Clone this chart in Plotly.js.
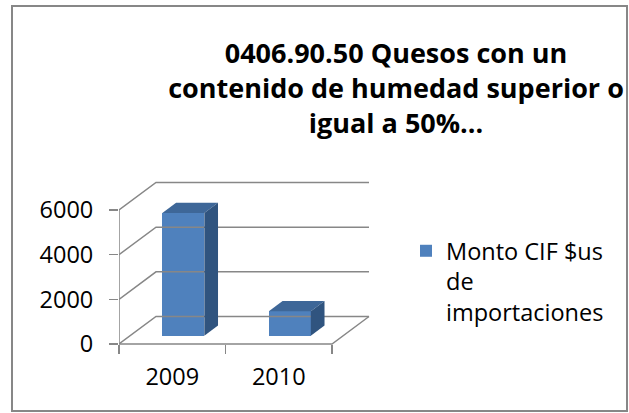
<!DOCTYPE html>
<html>
<head>
<meta charset="utf-8">
<script src="https://cdn.plot.ly/plotly-3.0.1.min.js"></script>
<style>html,body{margin:0;padding:0;background:#fff;}#chart{width:629px;height:413px;}</style>
</head>
<body>
<div id="chart"></div>
<script>
// ---- data ----
const categories = ["2009", "2010"];
const seriesName = "Monto CIF $us<br>de<br>importaciones";
const values = [5500, 1100];
const yTicks = [0, 2000, 4000, 6000];
const titleText = "0406.90.50 Quesos con un<br>contenido de humedad superior o<br>igual a 50%...";

// ---- geometry (pixels -> axis units) ----
const W = 629, H = 413;
const plotL = 119, plotR = 372, plotT = 178, plotB = 346;
const zeroPx = 344;                 // pixel row of value 0 on the front plane
const pxPerCat = 106.5;
const pxPerVal = 134 / 6000;
const xMin = -0.5, xMax = -0.5 + (plotR - plotL) / pxPerCat;
const yMin = -(plotB - zeroPx) / pxPerVal, yMax = (zeroPx - plotT) / pxPerVal;
const DX = 37 / pxPerCat;           // depth offset (category units)
const DY = 27.5 / pxPerVal;         // depth offset (value units)
const fFront = 0.3, fBack = 0.67;   // bar depth position
const barW = 0.394;
const gridColor = '#878787';
const FONT = 'Open Sans, Noto Sans, sans-serif';

const catIdx = categories.map((c, i) => i);
const xL = -0.5, xR = categories.length - 0.5;

const traces = [];

// walls, gridlines and floor
yTicks.forEach(v => {
  traces.push({
    type: 'scatter', mode: 'lines', hoverinfo: 'skip', showlegend: false,
    x: [xL, xL + DX, xR + DX], y: [v, v + DY, v + DY],
    line: {color: gridColor, width: 1.5}
  });
});
// front axis line and floor front / right edges
traces.push({
  type: 'scatter', mode: 'lines', hoverinfo: 'skip', showlegend: false,
  x: [xL, xL, xR, xR + DX], y: [yTicks[yTicks.length - 1], 0, 0, DY],
  line: {color: gridColor, width: 1.5}
});

// bar front faces
traces.push({
  type: 'bar', name: seriesName,
  x: catIdx.map(i => i + fFront * DX),
  y: values,
  base: values.map(() => fFront * DY),
  width: barW,
  marker: {color: '#4F81BD', line: {width: 0}},
  showlegend: true
});

// bar top and side faces
const dd = (fBack - fFront) * DX, ddy = (fBack - fFront) * DY;
values.forEach((v, i) => {
  const xl = i + fFront * DX - barW / 2, xr = i + fFront * DX + barW / 2;
  const b = fFront * DY, t = b + v;
  traces.push({
    type: 'scatter', mode: 'lines', fill: 'toself', hoverinfo: 'skip', showlegend: false,
    x: [xl, xr, xr + dd, xl + dd, xl], y: [t, t, t + ddy, t + ddy, t],
    fillcolor: '#3E6798', line: {width: 0, color: 'rgba(0,0,0,0)'}
  });
  traces.push({
    type: 'scatter', mode: 'lines', fill: 'toself', hoverinfo: 'skip', showlegend: false,
    x: [xr, xr + dd, xr + dd, xr, xr], y: [b, b + ddy, t + ddy, t, b],
    fillcolor: '#30547F', line: {width: 0, color: 'rgba(0,0,0,0)'}
  });
});

// dummy trace for the boundary-tick axis
traces.push({type: 'scatter', x: [xL], y: [0], xaxis: 'x2', mode: 'markers',
  marker: {opacity: 0}, hoverinfo: 'skip', showlegend: false});

const axisPos = (plotB - zeroPx) / (plotB - plotT);
const layout = {
  width: W, height: H,
  margin: {l: plotL, r: W - plotR, t: plotT, b: H - plotB, pad: 0},
  paper_bgcolor: '#fff', plot_bgcolor: 'rgba(0,0,0,0)',
  font: {family: FONT, color: '#000', size: 23.5},
  title: {
    text: titleText,
    font: {family: FONT, size: 27, weight: 'bold', color: '#000'},
    xref: 'container', yref: 'container', x: 396 / W, y: 1 - 63 / H,
    xanchor: 'center', yanchor: 'middle'
  },
  xaxis: {
    range: [xMin, xMax], anchor: 'free', position: axisPos,
    tickvals: catIdx, ticktext: categories, ticks: '',
    showgrid: false, zeroline: false, showline: false,
    ticklabelstandoff: 16, tickfont: {size: 23.5, family: FONT},
    fixedrange: true
  },
  xaxis2: {
    range: [xMin, xMax], overlaying: 'x', anchor: 'free', position: axisPos,
    tickvals: catIdx.concat([categories.length]).map(i => i - 0.5),
    showticklabels: false, ticks: 'outside', ticklen: 9, tickwidth: 1.5, tickcolor: gridColor,
    showgrid: false, zeroline: false, showline: false, fixedrange: true
  },
  yaxis: {
    range: [yMin, yMax], tickvals: yTicks, ticktext: yTicks.map(String),
    ticks: 'outside', ticklen: 9, tickwidth: 1.5, tickcolor: gridColor,
    showgrid: false, zeroline: false, showline: false,
    ticklabelstandoff: 11, tickfont: {size: 23.5, family: FONT},
    fixedrange: true
  },
  showlegend: true,
  legend: {
    xref: 'container', yref: 'container', x: 406 / W, y: 1 - 229 / H,
    xanchor: 'left', yanchor: 'top', valign: 'top',
    font: {family: FONT, size: 23.5, color: '#000'},
    bgcolor: 'rgba(0,0,0,0)', borderwidth: 0
  },
  shapes: [{
    type: 'rect', xref: 'paper', yref: 'paper',
    x0: (12 - plotL) / (plotR - plotL), x1: (627 - plotL) / (plotR - plotL),
    y0: (plotB - 411) / (plotB - plotT), y1: (plotB - 6) / (plotB - plotT),
    line: {color: gridColor, width: 2}, fillcolor: 'rgba(0,0,0,0)', layer: 'below'
  }],
  bargap: 0
};

Plotly.newPlot('chart', traces, layout, {displayModeBar: false, staticPlot: true});
</script>
</body>
</html>
